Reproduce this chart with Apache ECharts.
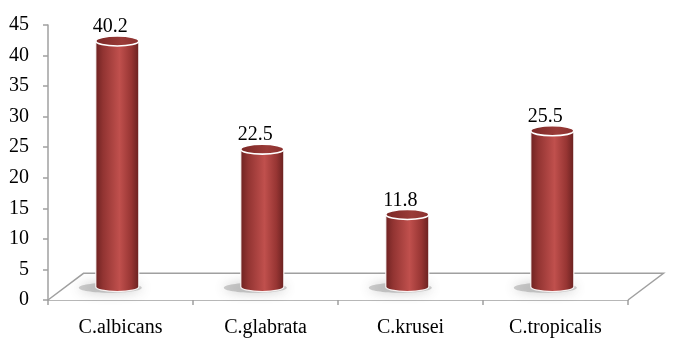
<!DOCTYPE html>
<html><head><meta charset="utf-8">
<script src="https://cdn.jsdelivr.net/npm/echarts@6/dist/echarts.min.js"></script>
<style>html,body{margin:0;padding:0;background:#fff}#c{width:673px;height:345px}</style>
</head><body><div id="c"></div>
<script>
const categories = ['C.albicans', 'C.glabrata', 'C.krusei', 'C.tropicalis'];
const values = [40.2, 22.5, 11.8, 25.5];
const yTicks = { min: 0, max: 45, interval: 5 };

const FONT = "'Liberation Serif', 'Times New Roman', serif";
const DEPTH = [35.5, -26.7];
const AXIS_COLOR = '#a0a0a0';

const chart = echarts.init(document.getElementById('c'), null, { renderer: 'canvas' });

function floorItem(params, api) {
  const cs = params.coordSys;
  const x0 = cs.x, x1 = cs.x + cs.width, y0 = cs.y + cs.height;
  const bl = [x0 + DEPTH[0], y0 + DEPTH[1]], br = [x1 + DEPTH[0], y0 + DEPTH[1]];
  return {
    type: 'group',
    children: [
      { type: 'polygon', shape: { points: [[x0, y0], bl, br, [x1, y0]] },
        style: { fill: '#ffffff', stroke: null } },
      { type: 'polyline', shape: { points: [[x0, y0], bl, br, [x1, y0]] },
        style: { fill: null, stroke: AXIS_COLOR, lineWidth: 1.5 } }
    ]
  };
}

function cylItem(params, api) {
  const idx = api.value(0), v = api.value(1);
  const base = api.coord([idx, 0]);
  const top = api.coord([idx, v]);
  const cx = base[0] - 3.2;
  const by = base[1] + DEPTH[1] / 2;
  const ty = top[1] + DEPTH[1] / 2;
  const rx = 21.5, ry = 5;
  const body = 'M' + (cx - rx) + ' ' + ty + ' L' + (cx - rx) + ' ' + by +
    ' A' + rx + ' ' + ry + ' 0 0 0 ' + (cx + rx) + ' ' + by +
    ' L' + (cx + rx) + ' ' + ty + ' Z';
  return {
    type: 'group',
    children: [
      { type: 'ellipse', shape: { cx: cx - 7, cy: by + 1, rx: rx + 10, ry: 5 },
        style: { fill: 'rgba(120,120,120,0.35)', shadowBlur: 12, shadowColor: 'rgba(90,90,90,0.9)' } },
      { type: 'path', shape: { pathData: body },
        style: {
          fill: new echarts.graphic.LinearGradient(0, 0, 1, 0, [
            { offset: 0, color: '#6c2120' },
            { offset: 0.18, color: '#923432' },
            { offset: 0.55, color: '#c0504d' },
            { offset: 0.82, color: '#973533' },
            { offset: 1, color: '#66201f' }
          ]),
          stroke: 'rgba(255,255,255,0.9)', lineWidth: 1.2
        } },
      { type: 'ellipse', shape: { cx: cx, cy: ty, rx: rx, ry: ry },
        style: {
          fill: new echarts.graphic.LinearGradient(0, 0, 1, 0, [
            { offset: 0, color: '#7a2725' },
            { offset: 0.6, color: '#9a3b38' },
            { offset: 1, color: '#8a302e' }
          ]),
          stroke: '#ffffff', lineWidth: 1.6
        } },
      { type: 'text', x: cx - 7, y: ty - 14,
        style: { text: String(v), fontFamily: FONT, fontSize: 20, fill: '#000',
          align: 'center', verticalAlign: 'middle' } }
    ]
  };
}

chart.setOption({
  animation: false,
  textStyle: { fontFamily: FONT },
  grid: { left: 48, right: 45, top: 25, bottom: 45 },
  xAxis: {
    type: 'category', data: categories, boundaryGap: true,
    axisLine: { lineStyle: { color: AXIS_COLOR, width: 1.5 } },
    axisTick: { show: true, length: 5, lineStyle: { color: AXIS_COLOR, width: 1.5 } },
    axisLabel: { fontFamily: FONT, fontSize: 20, color: '#000', margin: 18 }
  },
  yAxis: {
    type: 'value', min: yTicks.min, max: yTicks.max, interval: yTicks.interval,
    axisLine: { show: true, lineStyle: { color: AXIS_COLOR, width: 1.5 } },
    axisTick: { show: true, length: 5, lineStyle: { color: AXIS_COLOR, width: 1.5 } },
    splitLine: { show: false },
    axisLabel: { fontFamily: FONT, fontSize: 20, color: '#000', margin: 19 }
  },
  series: [
    { type: 'custom', renderItem: floorItem, data: [[0]], z: 1, silent: true },
    { type: 'custom', renderItem: cylItem, z: 3,
      data: values.map((v, i) => [i, v]) }
  ]
});
</script></body></html>
